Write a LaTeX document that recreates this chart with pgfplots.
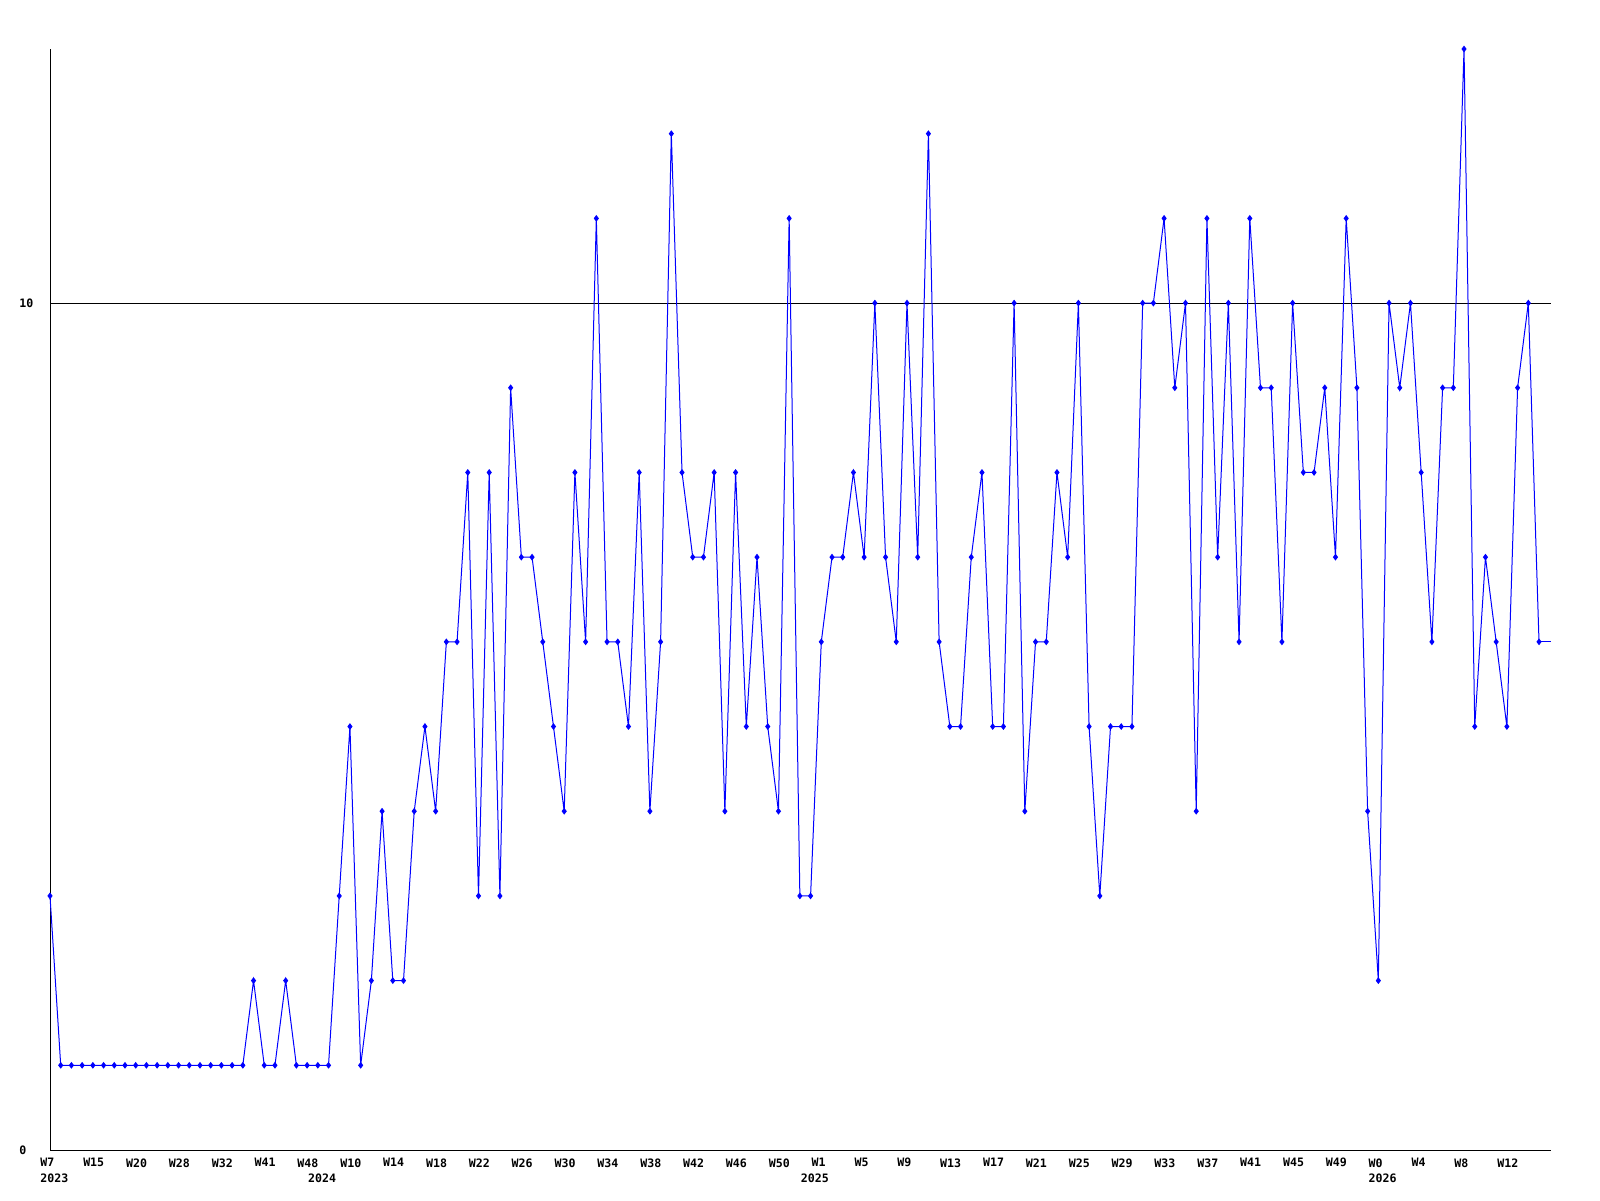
\documentclass[border=0pt]{standalone}
\usepackage{fontspec}
\setmainfont{DejaVu Sans Mono}
\usepackage{pgfplots}
\pgfplotsset{compat=1.18}
\usepackage{pgfplotstable}
\definecolor{pureblue}{RGB}{0,0,255}

\pgfplotstableread{
x y
0 3
1 1
2 1
3 1
4 1
5 1
6 1
7 1
8 1
9 1
10 1
11 1
12 1
13 1
14 1
15 1
16 1
17 1
18 1
19 2
20 1
21 1
22 2
23 1
24 1
25 1
26 1
27 3
28 5
29 1
30 2
31 4
32 2
33 2
34 4
35 5
36 4
37 6
38 6
39 8
40 3
41 8
42 3
43 9
44 7
45 7
46 6
47 5
48 4
49 8
50 6
51 11
52 6
53 6
54 5
55 8
56 4
57 6
58 12
59 8
60 7
61 7
62 8
63 4
64 8
65 5
66 7
67 5
68 4
69 11
70 3
71 3
72 6
73 7
74 7
75 8
76 7
77 10
78 7
79 6
80 10
81 7
82 12
83 6
84 5
85 5
86 7
87 8
88 5
89 5
90 10
91 4
92 6
93 6
94 8
95 7
96 10
97 5
98 3
99 5
100 5
101 5
102 10
103 10
104 11
105 9
106 10
107 4
108 11
109 7
110 10
111 6
112 11
113 9
114 9
115 6
116 10
117 8
118 8
119 9
120 7
121 11
122 9
123 4
124 2
125 10
126 9
127 10
128 8
129 6
130 9
131 9
132 13
133 5
134 7
135 6
136 5
137 9
138 10
139 6
}\datatable

\begin{document}
\begin{tikzpicture}
\path[use as bounding box] (0,0) rectangle (800pt,600pt);
\begin{axis}[
  at={(25pt,25pt)}, anchor=south west,
  scale only axis, width=750.5pt, height=550.5pt,
  xmin=0, xmax=140.12, ymin=0, ymax=13,
  axis x line*=bottom, axis y line*=left,
  axis line style={black, line width=0.5pt, -},
  ytick={0,10}, ymajorgrids, grid style={black, line width=0.5pt},
  xtick={0,4,...,136},
  xticklabels={W7,W15,W20,W28,W32,W41,W48,W10,W14,W18,W22,W26,W30,W34,W38,W42,W46,W50,W1,W5,W9,W13,W17,W21,W25,W29,W33,W37,W41,W45,W49,W0,W4,W8,W12},
  major tick length=0pt,
  tick label style={font=\fontsize{5.8}{7}\bfseries\selectfont, inner sep=0pt},
  /pgf/number format/assume math mode=true,
  x tick label style={anchor=north west, xshift=-5pt, yshift=-4pt},
  y tick label style={anchor=west, xshift=-15.5pt},
  extra x ticks={0,25,71,124},
  extra x tick labels={2023,2024,2025,2026},
  extra x tick style={x tick label style={yshift=-7.5pt}, major tick length=0pt},
  clip=false,
]
\addplot[color=pureblue, line width=0.5pt, mark=diamond*, mark size=1.3pt, mark options={solid, fill=pureblue}] table {\datatable};
\addplot[color=pureblue, line width=0.5pt, no markers] coordinates {(139,6) (140.12,6)};
\end{axis}
\end{tikzpicture}
\end{document}
